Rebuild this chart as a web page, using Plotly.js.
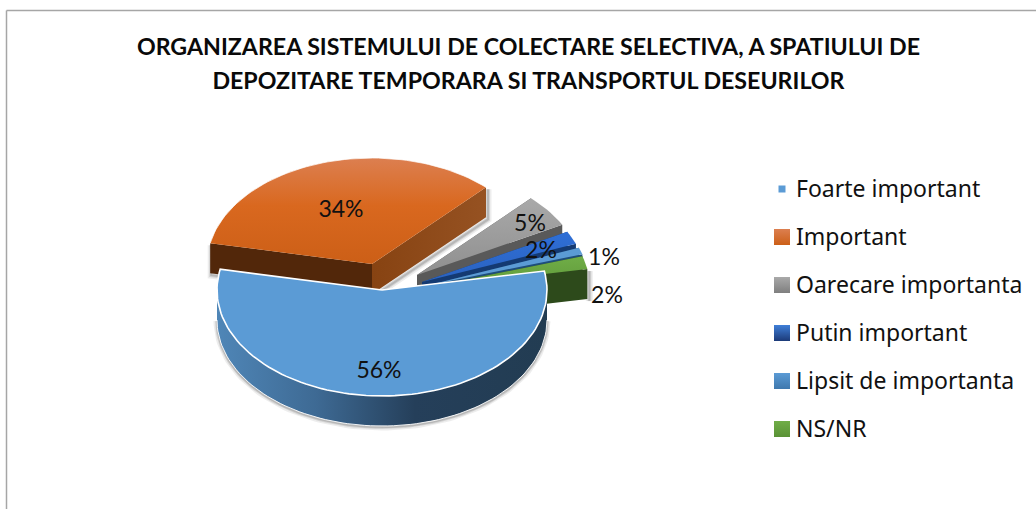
<!DOCTYPE html>
<html>
<head>
<meta charset="utf-8">
<script src="https://cdn.plot.ly/plotly-3.0.1.min.js"></script>
<style>html,body{margin:0;padding:0;background:#fff}#chart{width:1036px;height:509px}</style>
</head>
<body>
<div id="chart"></div>
<script>
// ---- data ----
const categories = ['Foarte important','Important','Oarecare importanta','Putin important','Lipsit de importanta','NS/NR'];
const values = [56,34,5,2,1,2];
const titleLine1 = 'ORGANIZAREA SISTEMULUI DE COLECTARE SELECTIVA, A SPATIULUI DE';
const titleLine2 = 'DEPOZITARE TEMPORARA SI TRANSPORTUL DESEURILOR';

// ---- look of the tilted pie ----
const startAngle = 79.7, radiusX = 165, radiusY = 106, depth = 30;
const centerX = [382,372,417,422,425,425];
const centerY = [290,264,275,282,286,288];
const labelX  = [379,341,530,541,604,607];
const labelY  = [372,211,225,252,259,297];
const drawOrder = [1,2,3,4,5,0];
const topFill = [
  [[0,'#5b9bd5'],[1,'#5b9bd5']],
  [[0,'#cc5f17'],[0.55,'#d9681f'],[1,'#dc7f50']],
  [[0,'#8f8f8f'],[1,'#a9a9a9']],
  [[0,'#2a62c0'],[1,'#2f6fd6']],
  [[0,'#5b9bd5'],[1,'#5b9bd5']],
  [[0,'#5f9a3a'],[1,'#70ad47']]];
const wallFill = [
  [[0,'#4f86b7'],[0.3,'#3e6a94'],[0.6,'#253f5a'],[1,'#223c52']],
  [[0,'#52270a'],[1,'#52270a']],
  [[0,'#595959'],[1,'#595959']],
  [[0,'#143a72'],[1,'#143a72']],
  [[0,'#1e4e7a'],[1,'#1e4e7a']],
  [[0,'#2d4a1b'],[1,'#2d4a1b']]];
const cutFill = [
  [[0,'#223c52'],[1,'#223c52']],
  [[0,'#874312'],[1,'#965222']],
  [[0,'#595959'],[1,'#595959']],
  [[0,'#143a72'],[1,'#143a72']],
  [[0,'#1e4e7a'],[1,'#1e4e7a']],
  [[0,'#2d4a1b'],[1,'#2d4a1b']]];
const legendColor = ['#5b9bd5','#dc7f50','#a9a9a9','#3f7fd8','#5b9bd5','#70ad47'];
const legendFade  = ['#5b9bd5','#cc5f17','#7f7f7f','#1c3a78','#3f78ad','#5a9236'];
const legendSize = [7,16,16,16,16,16];
const legendMarkerX = 782, legendTextX = 796, legendFirstY = 189, legendStep = 48, legendTextDrop = 2;

// ---- geometry from the values ----
const total = values.reduce((a,b)=>a+b,0);
const rad = d => d*Math.PI/180;
const px = (i,t) => centerX[i] + radiusX*Math.sin(rad(t));
const py = (i,t) => centerY[i] - radiusY*Math.cos(rad(t));
function arc(i,t0,t1){
  const n = Math.max(2,Math.ceil(Math.abs(t1-t0)/2)), xs=[], ys=[];
  for(let k=0;k<=n;k++){const t=t0+(t1-t0)*k/n; xs.push(px(i,t)); ys.push(py(i,t));}
  return [xs,ys];
}
const traces = [];
function poly(xs,ys,fill,gradType){
  traces.push({x:xs,y:ys,mode:'lines',fill:'toself',line:{width:0},showlegend:false,hoverinfo:'skip',
    fillcolor:fill[0][1], fillgradient:{type:gradType,colorscale:fill}});
}
function stroke(xs,ys,color,width){
  traces.push({x:xs,y:ys,mode:'lines',line:{color:color,width:width,shape:'linear'},showlegend:false,hoverinfo:'skip'});
}
let acc = startAngle;
const spans = values.map(v=>{const s=[acc,acc+v/total*360]; acc=s[1]; return s;});

drawOrder.forEach(i=>{
  const [t0,t1] = spans[i], ax=centerX[i], ay=centerY[i];
  const [tx,ty] = arc(i,t0,t1);
  // soft shadow along the lower outline
  let sx=[], sy=[];
  if(i===0){
    const [wx,wy]=arc(i,90,270); sx=wx; sy=wy.map(v=>v+depth);
  } else if(i===1){
    sx=[px(i,t0)-1,px(i,t0)-1,ax,px(i,t1+360),px(i,t1+360)];
    sy=[py(i,t0),py(i,t0)+depth,ay+depth,py(i,t1+360)+depth,py(i,t1+360)];
  } else if(i===5){
    sx=[px(i,t1),px(i,t1)]; sy=[py(i,t1),py(i,t1)+depth];
  }
  if(sx.length){
    const off = i===0?1:2;
    [[7,'rgba(80,80,80,0.10)'],[4,'rgba(80,80,80,0.16)'],[2,'rgba(80,80,80,0.22)']].forEach(s=>
      stroke(sx.map(v=>v+(i===0?0:off)),sy.map(v=>v+off),s[1],s[0]));
  }
  // cut face at the end angle
  const ex=px(i,t1), ey=py(i,t1);
  if(i!==0) poly([ax,ex,ex,ax,ax],[ay,ey,ey+depth,ay+depth,ay],cutFill[i],'horizontal');
  // cut face at the start angle
  const sxx=px(i,t0), syy=py(i,t0);
  if(i!==0) poly([ax,sxx,sxx,ax,ax],[ay,syy,syy+depth,ay+depth,ay],wallFill[i],'horizontal');
  // outer wall, only the part that faces the viewer
  const w0=Math.max(t0,90), w1=Math.min(t1,270);
  if(w1>w0){
    const [wx,wy]=arc(i,w0,w1);
    poly(wx.concat(wx.slice().reverse()),wy.concat(wy.map(v=>v+depth).reverse()),wallFill[i].map(c=>c),'horizontal');
    if(i===0) stroke(wx,wy.map(v=>v+depth),'rgba(255,255,255,0.9)',1);
  }
  // top face
  const fx=[ax].concat(tx,[ax]), fy=[ay].concat(ty,[ay]);
  poly(fx,fy,topFill[i],'vertical');
  if(i===0) stroke(fx,fy,'#ffffff',1.6);
  if(i===1) stroke(tx,ty,'rgba(255,255,255,0.7)',1);
});

// percentage labels
traces.push({x:labelX,y:labelY,mode:'text',text:values.map(v=>Math.round(v/total*100)+'%'),
  textposition:'middle center',textfont:{family:'Lato, Carlito, sans-serif',size:23,color:'#111'},
  showlegend:false,hoverinfo:'skip'});

// legend entries, placed at the reference's spacing
const legendY = categories.map((c,i)=>legendFirstY+i*legendStep);
categories.forEach((c,i)=>{
  traces.push({x:[legendMarkerX],y:[legendY[i]],name:c,mode:'markers',showlegend:false,hoverinfo:'skip',
    marker:{symbol:'square',size:legendSize[i],color:legendColor[i],line:{width:0},
      gradient:{type:'vertical',color:legendFade[i]}}});
});
traces.push({x:categories.map(()=>legendTextX),y:legendY.map(v=>v+legendTextDrop),mode:'text',text:categories,textposition:'middle right',
  textfont:{family:'"Noto Sans", sans-serif',size:23,color:'#111'},showlegend:false,hoverinfo:'skip',cliponaxis:false});

const span = t => '<span style="font-size:23.2px">'+t+'</span>';
const layout = {
  width:1036,height:509,margin:{l:0,r:0,t:0,b:0},paper_bgcolor:'#fff',plot_bgcolor:'#fff',
  font:{family:'Lato, Carlito, sans-serif',color:'#000'},
  title:{text:'<b>'+span(titleLine1)+'<br>'+span(titleLine2)+'</b>',x:0.5101,xanchor:'center',y:0.891,yref:'container',yanchor:'top',
    font:{family:'Lato, Carlito, sans-serif',size:26,color:'#0a0a0a'}},
  xaxis:{range:[0,1036],visible:false,fixedrange:true},
  yaxis:{range:[509,0],visible:false,fixedrange:true},
  showlegend:false,
  shapes:[
    {type:'line',xref:'paper',yref:'paper',x0:6.5/1036,x1:6.5/1036,y0:0,y1:1-10.5/509,line:{color:'#a6a6a6',width:1.5}},
    {type:'line',xref:'paper',yref:'paper',x0:6.5/1036,x1:1,y0:1-10.5/509,y1:1-10.5/509,line:{color:'#a6a6a6',width:1.5}}
  ]
};
Plotly.newPlot('chart',traces,layout,{displayModeBar:false,staticPlot:true});
</script>
</body>
</html>
